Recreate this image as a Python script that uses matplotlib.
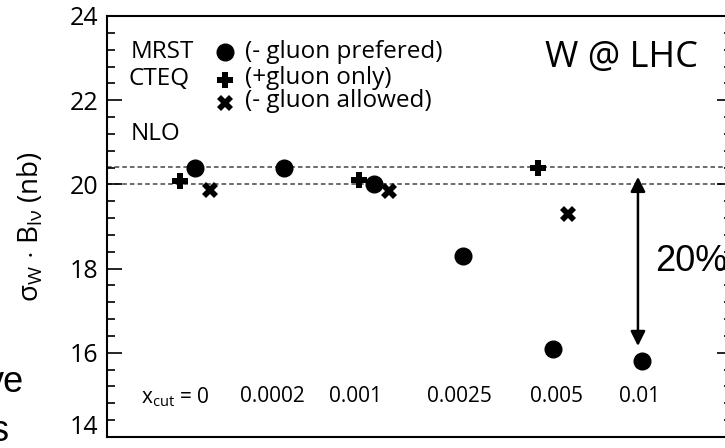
import matplotlib
matplotlib.use("Agg")
import matplotlib.pyplot as plt
from matplotlib.ticker import MultipleLocator
from matplotlib.transforms import ScaledTranslation

plt.rcParams['font.family'] = ['Open Sans', 'DejaVu Sans']
plt.rcParams['mathtext.fontset'] = 'custom'
plt.rcParams['mathtext.rm'] = 'Open Sans'

# x_cut categories and cross sections (nb)
xcut_labels = ["x$_{\\rm cut}$ = 0", "0.0002", "0.001", "0.0025", "0.005", "0.01"]
mrst_x = [0, 1, 2, 3, 4, 5]
mrst_y = [20.40, 20.38, 20.02, 18.30, 16.08, 15.80]
cteq_plus_x = [0, 2, 4]
cteq_plus_y = [20.08, 20.10, 20.38]
cteq_minus_x = [0, 2, 4]
cteq_minus_y = [19.86, 19.85, 19.30]
nlo_band = [20.42, 20.0]

label_shift = [-0.22, -0.13, -0.21, -0.04, 0.04, -0.03]

fig = plt.figure(figsize=(7.25, 4.48), dpi=100)
ax = fig.add_axes([0.1476, 0.0246, 0.862, 0.9397])

ax.plot([p - 0.17 for p in cteq_plus_x], cteq_plus_y, 'kP', ms=11, mew=0)
ax.plot([p + 0.17 for p in cteq_minus_x], cteq_minus_y, 'kX', ms=12, mew=0)
ax.plot(mrst_x, mrst_y, 'ko', ms=12)

for v in nlo_band:
    ax.axhline(v, color='#444444', lw=1.1, ls=(0, (3, 2)), zorder=0)

ax.set_xlim(-0.98, 6.0)
ax.set_ylim(14, 24)
ax.set_xticks([])
ax.yaxis.set_major_locator(MultipleLocator(2))
ax.yaxis.set_minor_locator(MultipleLocator(0.4))
ax.tick_params(axis='y', which='both', direction='in', right=True, labelsize=18, pad=6)
ax.tick_params(axis='y', which='major', length=11, width=1.2)
ax.tick_params(axis='y', which='minor', length=6, width=1.2)
for s in ax.spines.values():
    s.set_linewidth(1.5)

for i, lab in enumerate(xcut_labels):
    ax.text(i + label_shift[i], 14.95, lab, ha='center', va='center', fontsize=15)

ax.set_ylabel("$\\mathrm{\\sigma_W}$ $\\cdot$ $\\mathrm{B_{l\\nu}}$ (nb)", fontsize=20)
ax.yaxis.set_label_coords(-0.098, 0.5)

# legend block
tr = ax.transAxes
ax.text(0.037, 0.9145, "MRST", transform=tr, va='center', fontsize=17.5)
ax.text(0.034, 0.850, "CTEQ", transform=tr, va='center', fontsize=17.5)
ax.text(0.037, 0.720, "NLO", transform=tr, va='center', fontsize=17.5)
ax.plot([0.189], [0.9145], 'ko', ms=12, transform=tr)
ax.plot([0.189], [0.848], 'kP', ms=11, mew=0, transform=tr)
ax.plot([0.188], [0.793], 'kX', ms=12, mew=0, transform=tr)
ax.text(0.221, 0.9145, "(- gluon prefered)", transform=tr, va='center', fontsize=17.5)
ax.text(0.221, 0.853, "(+gluon only)", transform=tr, va='center', fontsize=17.5)
ax.text(0.221, 0.798, "(- gluon allowed)", transform=tr, va='center', fontsize=17.5)
ax.text(0.701, 0.90, "W @ LHC", transform=tr, va='center', fontsize=26)

# 20% arrow
ax.annotate("", xy=(4.95, 16.16), xytext=(4.95, 20.18),
            arrowprops=dict(arrowstyle='<|-|>', color='k', lw=1.8,
                            mutation_scale=22, shrinkA=0, shrinkB=0))
fig.text(0.903, 0.417, "20%", fontsize=26, va='center', family='Liberation Sans')

# slide text cut off at the left
fig.text(0.033, 0.125, "ve", fontsize=26, ha='right', va='baseline', family='Liberation Sans')
fig.text(0.013, 0.016, "s", fontsize=26, ha='right', va='baseline', family='Liberation Sans')

# lift the bottom tick label a little so it stays inside the picture
fig.canvas.draw()
for t in ax.yaxis.get_major_ticks():
    if t.label1.get_text() == "14":
        t.label1.set_verticalalignment('bottom')
        t.label1.set_transform(t.label1.get_transform()
                               + ScaledTranslation(0, -2 / 72, fig.dpi_scale_trans))

fig.savefig("out.png", dpi=100)
